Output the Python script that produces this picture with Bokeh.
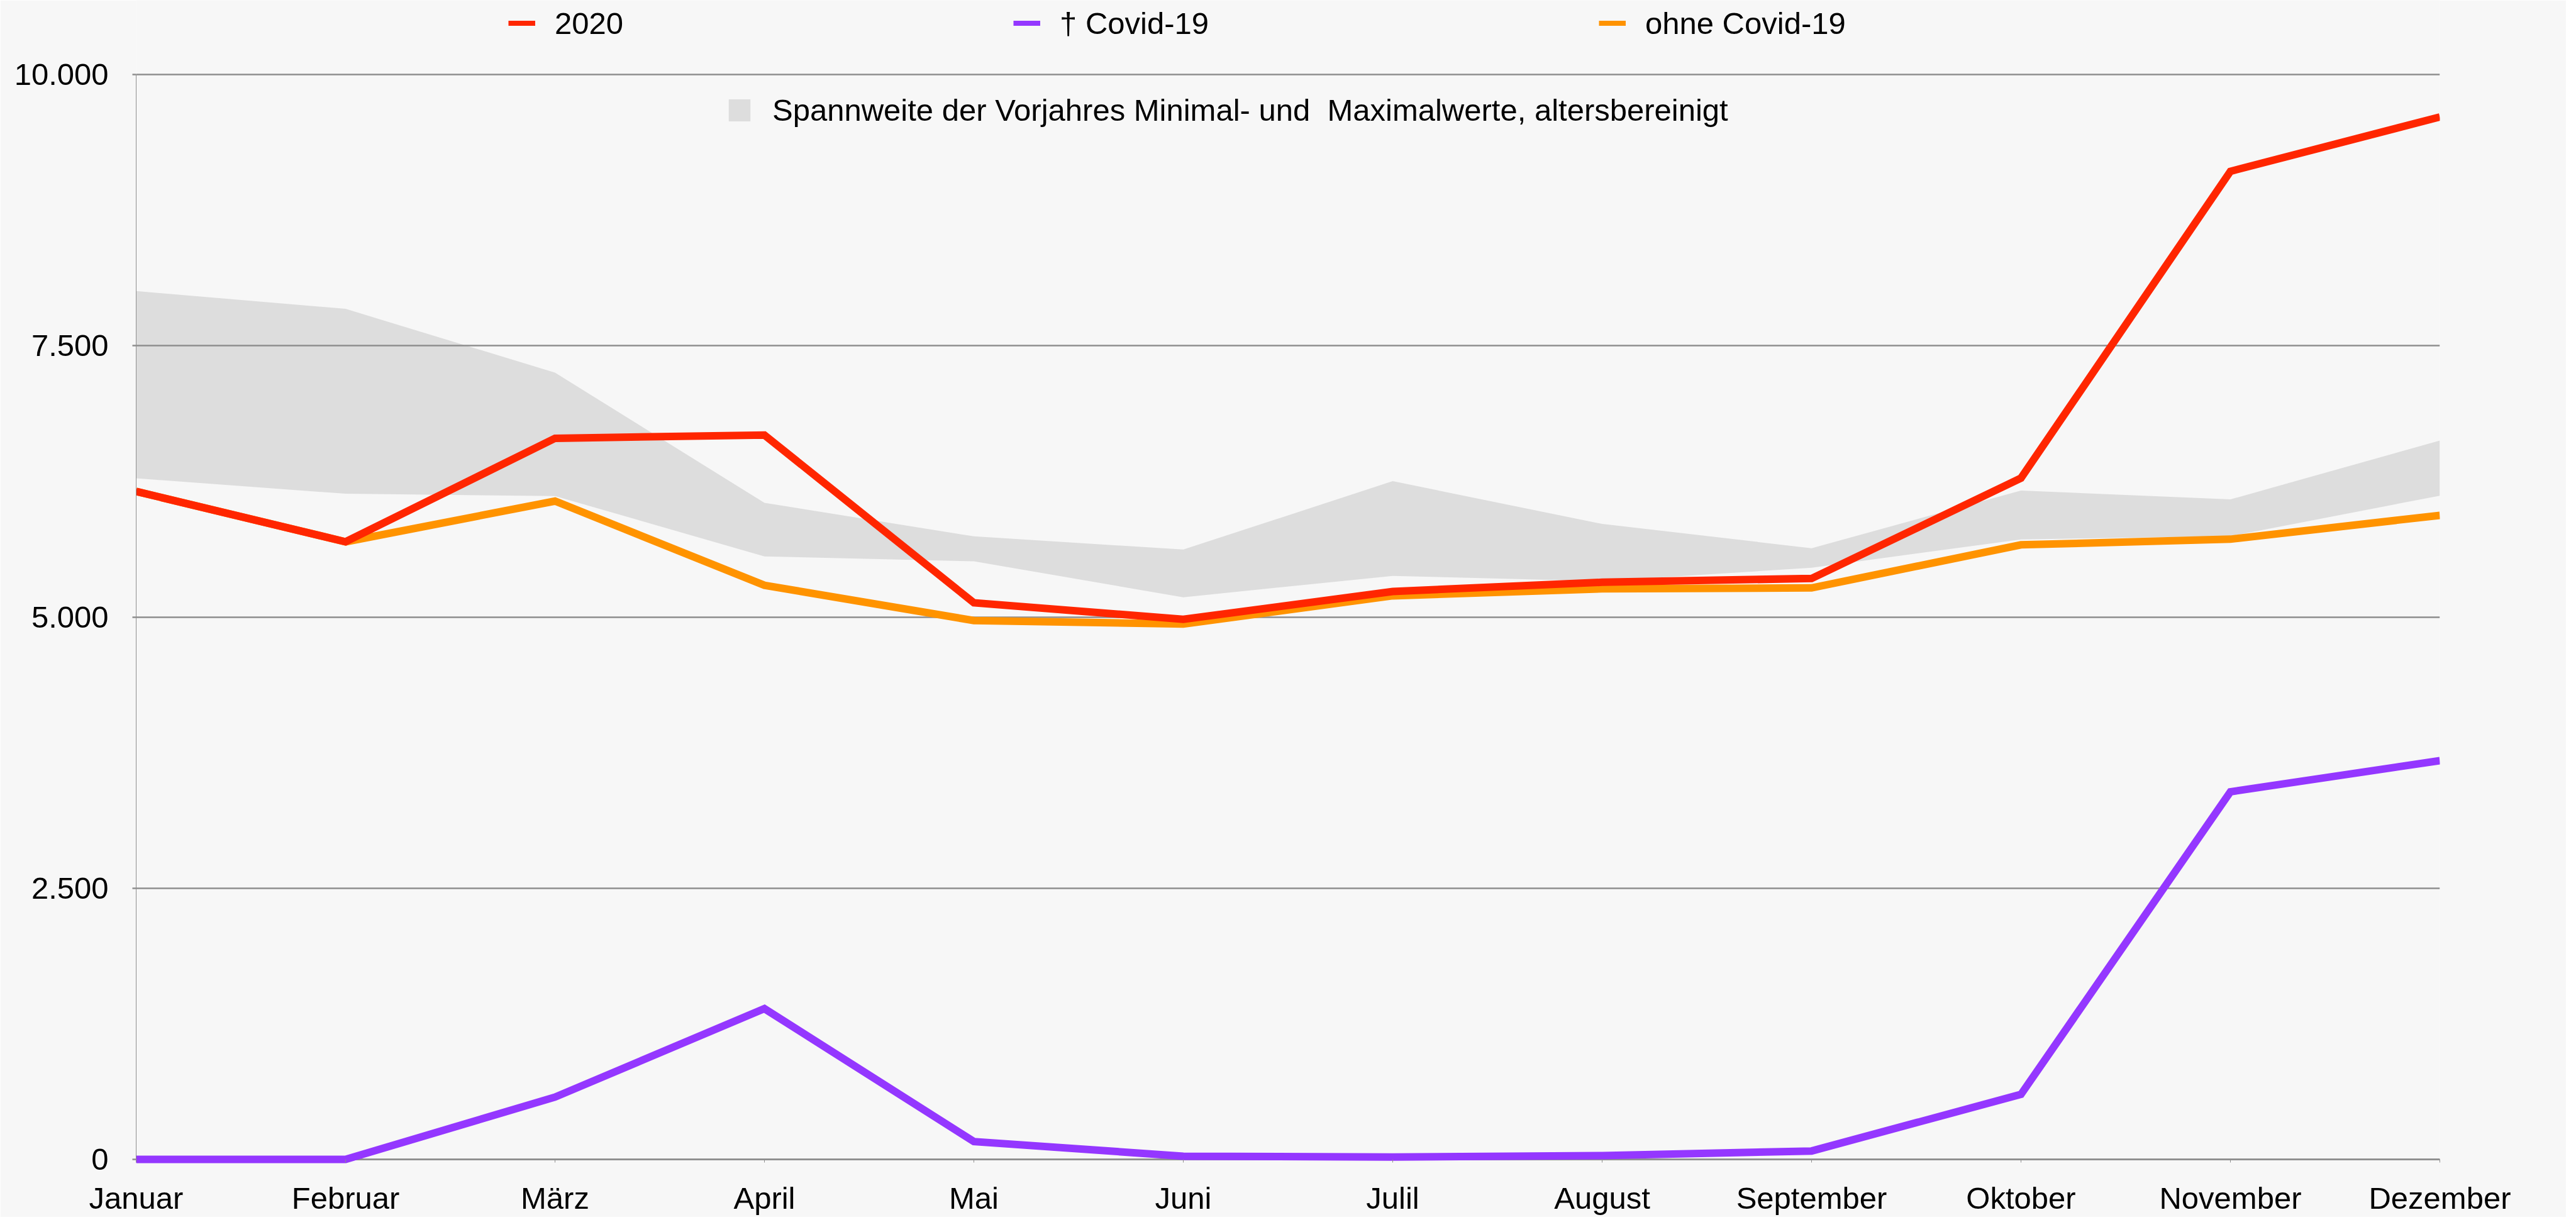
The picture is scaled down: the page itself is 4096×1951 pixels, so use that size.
from bokeh.plotting import figure
from bokeh.models import Range1d, FixedTicker, Legend, LegendItem, Span
from bokeh.embed import file_html
from bokeh.resources import INLINE

# ---- data ----
months = ["Januar", "Februar", "März", "April", "Mai", "Juni", "Julil",
          "August", "September", "Oktober", "November", "Dezember"]
total_2020 = [6157, 5693, 6647, 6677, 5131, 4979, 5235, 5320, 5355, 6280, 9108, 9609]
covid_deaths = [0, 0, 575, 1390, 165, 30, 23, 35, 78, 600, 3389, 3676]
ohne_covid = [6157, 5693, 6068, 5292, 4967, 4935, 5195, 5260, 5268, 5665, 5717, 5937]
band_upper = [8004, 7840, 7252, 6052, 5743, 5622, 6252, 5858, 5634, 6166, 6084, 6626]
band_lower = [6278, 6136, 6115, 5558, 5513, 5182, 5379, 5330, 5454, 5715, 5745, 6118]
y_ticks = [0, 2500, 5000, 7500, 10000]
y_tick_labels = ["0", "2.500", "5.000", "7.500", "10.000"]
series_names = ["2020", "† Covid-19", "ohne Covid-19"]
band_name = "Spannweite der Vorjahres Minimal- und  Maximalwerte, altersbereinigt"

x = list(range(len(months)))

RED = "#FF2600"
PURPLE = "#9437FF"
ORANGE = "#FF9300"
BAND = "#DDDDDD"
GRID = "#8E8E8E"
BG = "#F7F7F7"
FONT = "Liberation Sans"
FS = "49px"
LW = 12

p = figure(width=4080, height=1935, output_backend="svg", toolbar_location=None,
           x_range=Range1d(0, 11), y_range=Range1d(-40, 10684),
           min_border_left=216, min_border_right=201, min_border_top=0,
           min_border_bottom=85,
           background_fill_color=BG, border_fill_color=BG, outline_line_color=None)

# band
band = p.varea(x=x, y1=band_lower, y2=band_upper, fill_color=BAND, level="image")

# zero line (x axis line)
p.add_layout(Span(location=0, dimension="width", line_color=GRID, line_width=2.5,
                  level="underlay"))

# lines
lp = p.line(x, covid_deaths, line_color=PURPLE, line_width=LW, line_join="miter")
lo = p.line(x, ohne_covid, line_color=ORANGE, line_width=LW, line_join="miter")
lr = p.line(x, total_2020, line_color=RED, line_width=LW, line_join="miter")

# axes
xa = p.xaxis[0]
xa.ticker = FixedTicker(ticks=x)
xa.major_label_overrides = {i: m for i, m in zip(x, months)}
xa.axis_line_color = None
xa.major_tick_in = 7
xa.major_tick_out = -2
xa.major_tick_line_color = GRID
xa.major_tick_line_width = 1
xa.minor_tick_line_color = None
xa.major_label_standoff = 27
xa.major_label_text_font = FONT
xa.major_label_text_font_size = FS
xa.major_label_text_color = "black"

ya = p.yaxis[0]
ya.bounds = (0, 10000)
ya.ticker = FixedTicker(ticks=y_ticks)
ya.major_label_overrides = {t: l for t, l in zip(y_ticks, y_tick_labels)}
ya.axis_line_color = GRID
ya.axis_line_width = 1
ya.major_tick_out = 6
ya.major_tick_in = 0
ya.major_tick_line_color = GRID
ya.major_tick_line_width = 2.5
ya.minor_tick_line_color = None
ya.major_label_standoff = 38
ya.major_label_text_font = FONT
ya.major_label_text_font_size = FS
ya.major_label_text_color = "black"

p.xgrid.grid_line_color = None
p.ygrid.ticker = FixedTicker(ticks=y_ticks)
p.ygrid.grid_line_color = GRID
p.ygrid.grid_line_width = 2.5

# legends
leg1 = Legend(items=[LegendItem(label=series_names[0], renderers=[lr]),
                     LegendItem(label=series_names[1], renderers=[lp]),
                     LegendItem(label=series_names[2], renderers=[lo])],
              orientation="horizontal", location=(592, 1785), spacing=620,
              glyph_width=43, glyph_height=8, label_standoff=31,
              padding=0, margin=0, border_line_color=None, background_fill_alpha=0,
              label_text_font=FONT, label_text_font_size=FS, label_text_color="black")
leg2 = Legend(items=[LegendItem(label=band_name, renderers=[band])],
              location=(938, 1647), glyph_width=43, glyph_height=44, label_standoff=31,
              padding=0, margin=0, border_line_color=None, background_fill_alpha=0,
              label_text_font=FONT, label_text_font_size=FS, label_text_color="black")
p.add_layout(leg1, "center")
p.add_layout(leg2, "center")

open("out.html", "w").write(file_html(p, INLINE))
